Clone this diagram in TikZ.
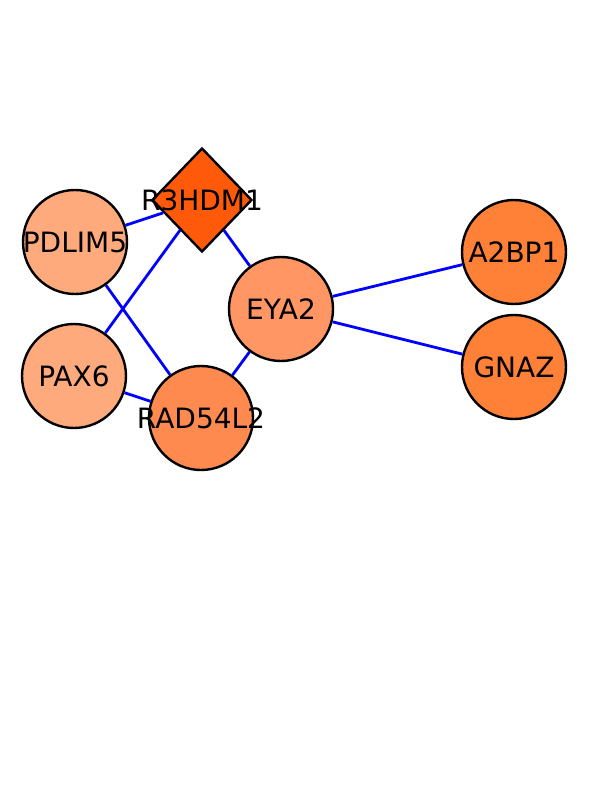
\documentclass[tikz,border=0pt]{standalone}
\usepackage{fontspec}
\setmainfont{DejaVu Sans}
\usetikzlibrary{shapes.geometric}

\definecolor{hubfill}{RGB}{255,90,10}
\definecolor{palefill}{RGB}{255,170,125}
\definecolor{midfill}{RGB}{255,150,100}
\definecolor{radfill}{RGB}{255,138,80}
\definecolor{deepfill}{RGB}{255,128,55}

\tikzset{
    gene/.style={circle, draw=black, line width=2.4pt, minimum size=104pt, inner sep=0pt,
        label={[font=\fontsize{28}{28}\selectfont]center:#1}},
    hub/.style={diamond, draw=black, line width=2.4pt, minimum width=100pt, minimum height=104pt, inner sep=0pt},
    link/.style={blue, line width=2.8pt}
}

\begin{document}
\begin{tikzpicture}[x=1pt, y=-1pt]
        \useasboundingbox (0,0) rectangle (612,792);

        % Nodes
        \node[hub, fill=hubfill] (r3hdm1) at (202,200) {};
        \node[gene=PDLIM5, fill=palefill] (pdlim5) at (75,242) {};
        \node[gene=PAX6, fill=palefill] (pax6) at (74,376) {};
        \node[gene=RAD54L2, fill=radfill] (rad54l2) at (201,418) {};
        \node[gene=EYA2, fill=midfill] (eya2) at (281,309) {};
        \node[gene=A2BP1, fill=deepfill] (a2bp1) at (514,252) {};
        \node[gene=GNAZ, fill=deepfill] (gnaz) at (514,367) {};

        % Edges
        \draw[link] (pdlim5) -- (r3hdm1);
        \draw[link] (pdlim5) -- (rad54l2);
        \draw[link] (pax6) -- (r3hdm1);
        \draw[link] (pax6) -- (rad54l2);
        \draw[link] (r3hdm1) -- (eya2);
        \draw[link] (eya2) -- (rad54l2);
        \draw[link] (eya2) -- (a2bp1);
        \draw[link] (eya2) -- (gnaz);

        % Label on the diamond
        \node[font=\fontsize{28}{28}\selectfont] at (r3hdm1) {R3HDM1};

    \end{tikzpicture}
\end{document}
